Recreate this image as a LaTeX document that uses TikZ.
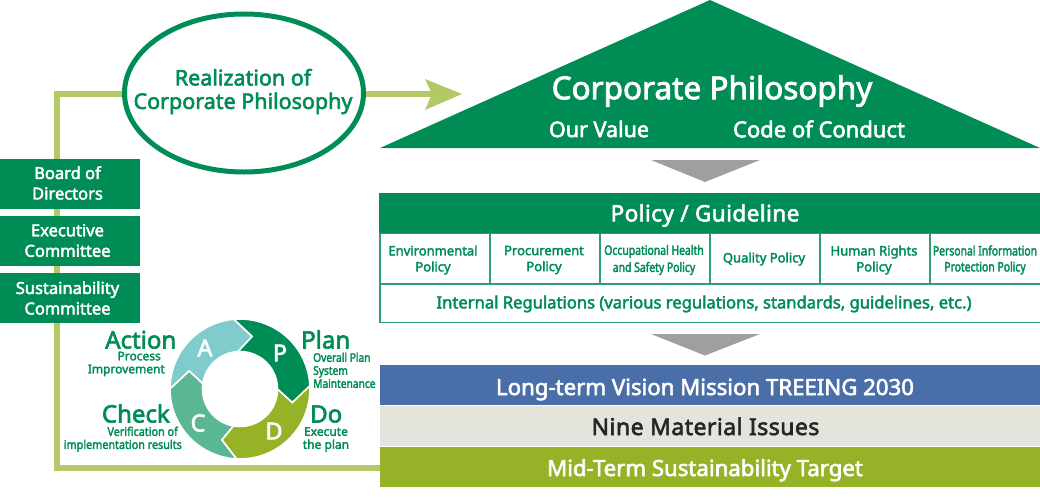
\documentclass[tikz,border=0pt]{standalone}
\usepackage{fontspec}
\usetikzlibrary{calc,shapes.geometric}
\setmainfont{Noto Sans}[FakeBold=2.6]
\newfontfamily\condf{Noto Sans}[FakeBold=2.6,FakeStretch=0.8]
\newfontfamily\condg{Noto Sans}[FakeBold=2.6,FakeStretch=0.85]
\newfontfamily\condh{Noto Sans}[FakeBold=2.6,FakeStretch=0.9]
\newfontfamily\spf{Noto Sans}[FakeBold=2.6,LetterSpace=2]
\definecolor{mygreen}{HTML}{008C55}
\definecolor{linegreen}{HTML}{B2C965}
\definecolor{bordergreen}{HTML}{2F9E72}
\definecolor{myblue}{HTML}{4A6FA8}
\definecolor{mybeige}{HTML}{E4E4DC}
\definecolor{myolive}{HTML}{96B227}
\definecolor{myteal}{HTML}{5BB793}
\definecolor{myaqua}{HTML}{80CBCB}
\definecolor{mygray}{HTML}{9F9F9F}
\newcommand{\fs}[1]{\fontsize{#1}{#1}\selectfont}
% outer start, outer end, tip, inner end, inner start, notch, colour
\newcommand{\ringseg}[7]{%
  \fill[#7,draw=white,line width=1.6pt,line join=miter]
   ($(c)+(#1:70)$) arc[start angle=#1,end angle=#2,radius=70]
   -- ($(c)+(#3:54)$) -- ($(c)+(#4:37.5)$)
   arc[start angle=#4,end angle=#5,radius=37.5]
   -- ($(c)+(#6:54)$) -- cycle;}
\tikzset{
  sidebox/.style={fill=mygreen,minimum width=143pt,anchor=north west,inner sep=0pt},
  sidetext/.style={text=white,inner sep=0pt,align=center,font=\fs{16.5}},
  cell/.style={draw=bordergreen,line width=1.5pt,fill=white,anchor=north west,inner sep=0pt,minimum height=50.5pt},
  celltext/.style={text=mygreen,inner sep=0pt,align=center,font=\fs{13}},
  bar/.style={anchor=north west,minimum width=660pt,minimum height=40pt,inner sep=0pt},
  bartext/.style={inner sep=0pt,font=\fs{22.2}},
  greytri/.style={fill=mygray},
  greentxt/.style={text=mygreen,inner sep=0pt,align=center},
  lbl/.style={text=mygreen,inner sep=0pt,font=\fs{12}},
  big/.style={text=mygreen,inner sep=0pt,font=\fs{24},text height=17pt,text depth=0pt},
  seglet/.style={text=white,inner sep=0pt,font=\fs{23.5}},
  flow/.style={draw=linegreen,line width=6pt}
}
\begin{document}
\begin{tikzpicture}[x=1pt,y=-1pt]
\useasboundingbox (0,0) rectangle (1040,496);
% flow line
\coordinate (bl) at (380,467.5);
\coordinate (corner1) at (56.5,467.5);
\coordinate (corner2) at (56.5,94);
\coordinate (arrowend) at (432,94);
\draw[flow] (bl) -- (corner1) -- (corner2) -- (arrowend);
\fill[linegreen] (425,79) -- (462,94) -- (425,110) -- (432,94) -- cycle;
% ellipse
\node[draw=mygreen,fill=white,line width=5pt,ellipse,minimum width=239pt,minimum height=158pt,inner sep=0pt] (real) at (244,93) {};
\node[greentxt,font=\fs{21.5},align=center] (realt) at (243,91.5) {Realization of\\[2pt]Corporate Philosophy};
% side boxes
\node[sidebox,minimum height=50.5pt] (board) at (-3,158.5) {};
\node[sidebox,minimum height=50pt] (exec) at (-3,216) {};
\node[sidebox,minimum height=50pt] (sust) at (-3,273) {};
\node[sidetext] (boardt) at (67.5,183) {Board of\\[4pt]Directors};
\node[sidetext] (exect) at (67.5,240.5) {Executive\\[4pt]Committee};
\node[sidetext] (sustt) at (67.5,298) {Sustainability\\[4pt]Committee};
% triangle
\fill[mygreen] (710,0) -- (1040,148) -- (380,148) -- cycle;
\node[text=white,inner sep=0pt,font=\fs{31.5}] (cp) at (712,91) {Corporate Philosophy};
\node[text=white,inner sep=0pt,font=\fs{21.5}] (ov) at (599,129) {Our Value};
\node[text=white,inner sep=0pt,font=\fs{22}] (cc) at (819,129) {Code of Conduct};
% gray arrows
\fill[greytri] (651,160) -- (760,160) -- (705,182) -- cycle;
\fill[greytri] (651,334) -- (760,334) -- (705,355.5) -- cycle;
% policy
\node[draw=mygreen,line width=1.5pt,fill=mygreen,anchor=north west,minimum width=661pt,minimum height=40pt,inner sep=0pt] (pg) at (379,193) {};
\node[text=white,inner sep=0pt,font=\spf\fs{22.5}] (pgt) at (705,215.5) {Policy / Guideline};
\node[cell,minimum width=110pt] (c1) at (379,232.7) {};
\node[cell,minimum width=110pt] (c2) at (489,232.7) {};
\node[cell,minimum width=110pt] (c3) at (599,232.7) {};
\node[cell,minimum width=110pt] (c4) at (709,232.7) {};
\node[cell,minimum width=110pt] (c5) at (819,232.7) {};
\node[cell,minimum width=111pt] (c6) at (929,232.7) {};
\node[celltext] (c1t) at (433,260) {Environmental\\[3pt]Policy};
\node[celltext] (c2t) at (544,260) {Procurement\\[3pt]Policy};
\node[celltext,font=\fs{13}\condf] (c3t) at (654,260) {Occupational Health\\[3pt]and Safety Policy};
\node[celltext] (c4t) at (764,259) {Quality Policy};
\node[celltext] (c5t) at (874,260) {Human Rights\\[3pt]Policy};
\node[celltext,font=\fs{13}\condf] (c6t) at (985,260) {Personal Information\\[3pt]Protection Policy};
\node[cell,minimum width=661pt,minimum height=38.5pt] (ir) at (379,283.2) {};
\node[celltext,font=\fs{16.6}] (irt) at (704,304) {Internal Regulations (various regulations, standards, guidelines, etc.)};
% bars
\node[bar,fill=myblue] (b1) at (380,365) {};
\node[bar,fill=mybeige] (b2) at (380,406) {};
\node[bar,fill=myolive] (b3) at (380,447) {};
\node[bartext,text=white,anchor=base] (b1t) at (705,395) {Long-term Vision Mission TREEING 2030};
\node[bartext,text=black!85,anchor=base,font=\spf\fs{23}] (b2t) at (705.5,435) {Nine Material Issues};
\node[bartext,text=white,anchor=base] (b3t) at (705,476) {Mid-Term Sustainability Target};
% ring
\begin{scope}[yscale=-1]
\coordinate (c) at (240,-389);
\ringseg{180}{95}{77}{93}{172}{160.5}{myaqua}
\ringseg{267.3}{180}{160.5}{172}{260}{250.5}{myteal}
\ringseg{2.7}{-92.7}{-109.5}{-100}{0}{-14.4}{myolive}
\ringseg{95}{2.7}{-14.4}{0}{93}{77}{mygreen}
\end{scope}
\node[seglet] (P) at (280,353) {P};
\node[seglet] (D) at (274,431) {D};
\node[seglet] (C) at (198,423) {C};
\node[seglet] (A) at (205,348) {A};
\node[big,anchor=base west] (plan) at (301,348.5) {Plan};
\node[big,anchor=base west] (do) at (310,422.5) {Do};
\node[big,anchor=base east] (check) at (170,422.5) {Check};
\node[big,anchor=base east] (action) at (176.5,348.5) {Action};
\node[lbl,anchor=north west,align=left,font=\fs{12}\condg] (pt) at (313,352.5) {Overall Plan\\[1pt]System\\[1pt]Maintenance};
\node[lbl,anchor=north,align=center] (dt) at (326,427) {Execute\\[1pt]the plan};
\node[lbl,anchor=north east,align=right,font=\fs{12}\condh] (ct) at (182,426.5) {Verification of\hspace*{4pt}\\[1pt]implementation results};
\node[lbl,anchor=north east,align=right] (at) at (165,351.5) {Process\hspace*{4pt}\\[1pt]Improvement};
\end{tikzpicture}
\end{document}
